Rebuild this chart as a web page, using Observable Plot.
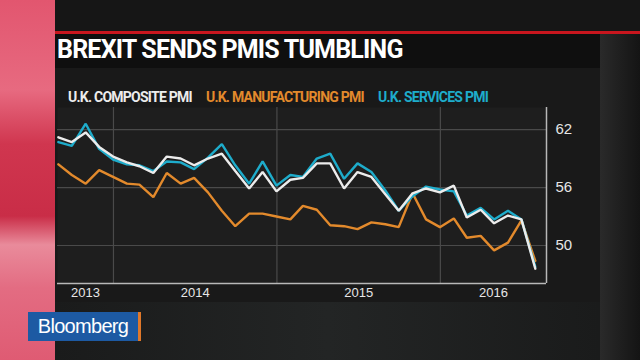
<!DOCTYPE html>
<html>
<head>
<meta charset="utf-8">
<script src="https://cdn.jsdelivr.net/npm/d3@7"></script>
<script src="https://cdn.jsdelivr.net/npm/@observablehq/plot@0.6"></script>
<style>
  html, body { margin: 0; padding: 0; }
  body { width: 640px; height: 360px; overflow: hidden; position: relative; background: #1c1d1d; font-family: "Liberation Sans", Arial, sans-serif; }
  .abs { position: absolute; }
  #strip { left: 0; top: 0; width: 55px; height: 360px;
    background: linear-gradient(to bottom, #e2566f 0%, #e76a80 25%, #d0364f 40%, #c92d47 60%, #e98b9b 68%, #e36c82 80%, #df5b73 100%); }
  #topband { left: 55px; top: 0; width: 585px; height: 31px; background: #161616; }
  #redline { left: 55px; top: 31px; width: 585px; height: 3px; background: #c8161e; }
  #titleband { left: 55px; top: 34px; width: 545px; height: 34px; background: #0f0f0f; }
  #panel { left: 55px; top: 68px; width: 545px; height: 234px; background: #191919; }
  #rightside { left: 600px; top: 34px; width: 40px; height: 326px; background: linear-gradient(to right, #2a2a2a, #141414); }
  #bottomarea { left: 55px; top: 302px; width: 545px; height: 58px; background: linear-gradient(to right, #1a1b1b, #232525 50%, #1a1b1b); }
  #title { left: 57px; top: 35px; color: #fff; font-family: Roboto, "Liberation Sans", sans-serif; font-weight: 700; font-size: 25px; letter-spacing: -0.8px; line-height: 30px; }
  #legend { left: 68px; top: 89px; font-family: Roboto, "Liberation Sans", sans-serif; font-weight: 700; font-size: 14px; letter-spacing: -0.75px; white-space: nowrap; line-height: 17px; }
  #legend span { margin-right: 14px; }
  #chart { left: 0; top: 100px; }
  #logo { left: 28px; top: 312px; width: 110px; height: 29px; background: #1d5aa3; color: #fff; font-family: "Liberation Sans", Arial, sans-serif; font-size: 20px; letter-spacing: -0.7px; line-height: 29px; text-align: center; }
  #logobar { left: 138px; top: 312px; width: 3px; height: 29px; background: #e0782a; }
</style>
</head>
<body>
<div id="strip" class="abs"></div>
<div id="topband" class="abs"></div>
<div id="redline" class="abs"></div>
<div id="titleband" class="abs"></div>
<div id="panel" class="abs"></div>
<div id="rightside" class="abs"></div>
<div id="bottomarea" class="abs"></div>
<div id="title" class="abs">BREXIT SENDS PMIS TUMBLING</div>
<div id="legend" class="abs"></div>
<div id="chart" class="abs"></div>
<div id="logo" class="abs">Bloomberg</div>
<div id="logobar" class="abs"></div>
<script>
// ---- Data (monthly, Aug 2013 – Jul 2016) ----
const months = [
  "2013-08","2013-09","2013-10","2013-11","2013-12",
  "2014-01","2014-02","2014-03","2014-04","2014-05","2014-06","2014-07","2014-08","2014-09","2014-10","2014-11","2014-12",
  "2015-01","2015-02","2015-03","2015-04","2015-05","2015-06","2015-07","2015-08","2015-09","2015-10","2015-11","2015-12",
  "2016-01","2016-02","2016-03","2016-04","2016-05","2016-06","2016-07"
];
const composite = [
  61.2, 60.7, 61.7, 60.2, 59.2,
  58.6, 58.2, 57.5, 59.2, 59.0, 58.3, 59.0, 59.5, 57.7, 55.9, 57.6, 55.6,
  56.8, 57.0, 58.5, 58.5, 55.9, 57.6, 57.1, 55.3, 53.6, 55.4, 55.9, 55.5,
  56.2, 52.9, 53.7, 52.3, 53.1, 52.7, 47.6
];
const manufacturing = [
  58.4, 57.3, 56.4, 57.8, 57.1,
  56.4, 56.3, 55.0, 57.5, 56.4, 57.0, 55.5, 53.6, 52.0, 53.3, 53.3, 53.0,
  52.7, 54.1, 53.7, 52.1, 52.0, 51.7, 52.4, 52.2, 51.9, 55.4, 52.7, 51.9,
  52.8, 50.8, 51.0, 49.5, 50.3, 52.6, 48.4
];
const services = [
  60.7, 60.3, 62.6, 60.0, 58.9,
  58.4, 58.3, 57.7, 58.7, 58.6, 57.9, 59.1, 60.5, 58.3, 56.4, 58.7, 56.2,
  57.3, 57.1, 59.0, 59.5, 56.9, 58.5, 57.6, 55.7, 53.6, 55.1, 56.1, 55.8,
  55.6, 53.1, 53.9, 52.7, 53.6, 52.7, 47.8
];
const seriesNames = ["U.K. COMPOSITE PMI", "U.K. MANUFACTURING PMI", "U.K. SERVICES PMI"];
const seriesColors = ["#ececec", "#e38a2c", "#1eaccb"];
const yTicks = [50, 56, 62];
const yearTicks = ["2013", "2014", "2015", "2016"];

// ---- Build table ----
const parseMonth = d3.utcParse("%Y-%m");
const monthEnd = m => d3.utcDay.offset(d3.utcMonth.offset(parseMonth(m), 1), -1);
const rows = [];
months.forEach((m, i) => {
  rows.push({date: monthEnd(m), value: composite[i], series: seriesNames[0]});
  rows.push({date: monthEnd(m), value: manufacturing[i], series: seriesNames[1]});
  rows.push({date: monthEnd(m), value: services[i], series: seriesNames[2]});
});

const xStart = new Date(Date.UTC(2013, 7, 29));
const xEnd = new Date(Date.UTC(2016, 7, 25));
const yMin = 46.07, yMax = 64.28;
const yearStarts = yearTicks.slice(1).map(y => new Date(Date.UTC(+y, 0, 1)));
// label each year in the middle of its visible span
const yearMids = yearTicks.map(y => {
  const a = Math.max(+new Date(Date.UTC(+y, 0, 1)), +xStart);
  const b = Math.min(+new Date(Date.UTC(+y + 1, 0, 1)), +xEnd);
  return new Date((a + b) / 2);
});

// legend
const legend = document.getElementById("legend");
seriesNames.forEach((n, i) => {
  const s = document.createElement("span");
  s.textContent = n;
  s.style.color = seriesColors[i];
  legend.appendChild(s);
});

const drawOrder = [1, 2, 0];
const chart = Plot.plot({
  width: 640,
  height: 210,
  marginLeft: 57,
  marginRight: 94,
  marginTop: 7,
  marginBottom: 27,
  style: {background: "transparent", color: "#e6e6e6", fontFamily: "'Liberation Sans', Arial, sans-serif", overflow: "visible"},
  x: {type: "utc", domain: [xStart, xEnd]},
  y: {domain: [yMin, yMax]},
  marks: [
    Plot.frame({fill: "#1e1e1e", stroke: null}),
    Plot.gridY(yTicks, {stroke: "#4a4a4a", strokeOpacity: 1, strokeWidth: 1.2}),
    Plot.gridX(yearStarts, {stroke: "#4a4a4a", strokeOpacity: 1, strokeWidth: 1.2}),
    Plot.ruleX([xEnd], {stroke: "#b8b8b8", strokeWidth: 1.5}),
    Plot.ruleY([yMin], {stroke: "#b8b8b8", strokeWidth: 1.5}),
    Plot.axisY(yTicks, {anchor: "right", tickSize: 0, tickPadding: 9, fontSize: 15, label: null}),
    Plot.axisX(yearMids, {anchor: "bottom", tickSize: 0, tickPadding: 4, fontSize: 13, tickFormat: d => String(d.getUTCFullYear()), label: null}),
    ...drawOrder.map(i => Plot.line(rows.filter(r => r.series === seriesNames[i]), {
      x: "date", y: "value", stroke: seriesColors[i], strokeWidth: 2.4, strokeLinejoin: "miter"
    }))
  ]
});
document.getElementById("chart").appendChild(chart);
</script>
</body>
</html>
